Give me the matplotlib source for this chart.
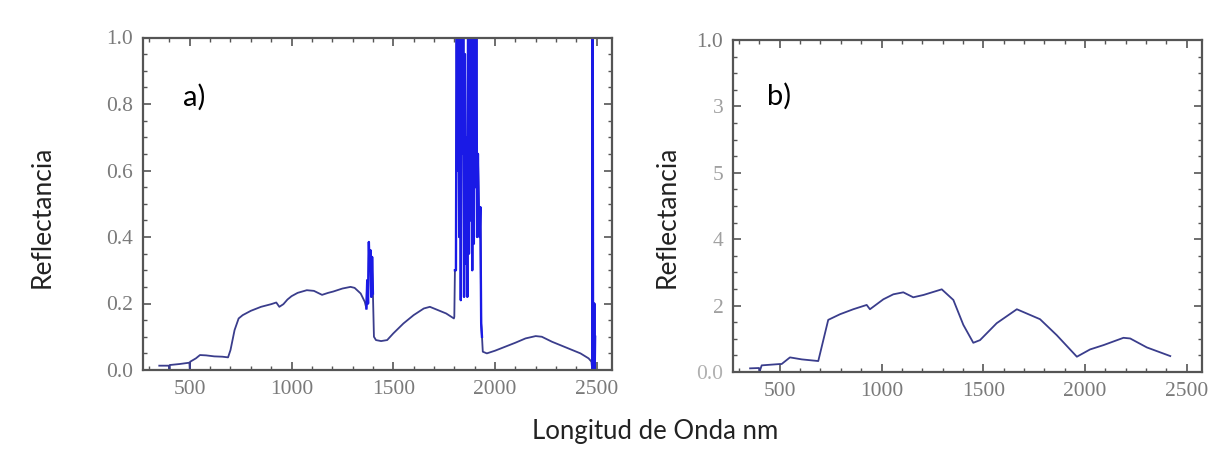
import matplotlib
matplotlib.use("Agg")
import matplotlib.pyplot as plt
import numpy as np
from matplotlib.ticker import MultipleLocator

# ---- data ----
wl_a = [350, 398, 400, 402, 450, 498, 500, 502, 530, 550, 580, 620, 660, 688, 700, 720, 740,
        760, 800, 850, 900, 925, 940, 960, 980, 1000, 1030, 1075, 1110, 1150, 1180, 1205,
        1250, 1290, 1310, 1340, 1360, 1368, 1372, 1376, 1380, 1384, 1388, 1392, 1396, 1400,
        1405, 1415, 1440, 1470, 1500, 1550, 1600, 1650, 1680, 1720, 1760, 1798, 1800, 1803,
        1808, 1812, 1816, 1820, 1824, 1828, 1832, 1836, 1840, 1844, 1848, 1852, 1856, 1860,
        1864, 1868, 1872, 1876, 1880, 1884, 1888, 1892, 1896, 1900, 1904, 1908, 1912, 1916,
        1920, 1924, 1928, 1932, 1936, 1940, 1960, 2000, 2050, 2100, 2150, 2200, 2230, 2280,
        2320, 2380, 2420, 2460, 2474, 2478, 2480, 2482, 2484, 2486, 2488, 2490, 2492]
refl_a = [0.013, 0.013, 0.0, 0.015, 0.018, 0.022, 0.0, 0.025, 0.035, 0.045, 0.044, 0.041, 0.040,
          0.038, 0.06, 0.12, 0.155, 0.165, 0.178, 0.19, 0.198, 0.203, 0.19, 0.198, 0.212, 0.222,
          0.232, 0.24, 0.238, 0.226, 0.232, 0.236, 0.245, 0.25, 0.247, 0.23, 0.205, 0.185, 0.27,
          0.20, 0.385, 0.30, 0.36, 0.22, 0.34, 0.23, 0.10, 0.09, 0.087, 0.09, 0.11, 0.14, 0.165,
          0.185, 0.19, 0.18, 0.17, 0.155, 0.16, 0.30, 0.30, 1.2, 0.60, 1.2, 0.40, 1.2, 0.21,
          1.2, 0.65, 1.2, 0.22, 0.95, 0.32, 0.70, 0.22, 1.2, 0.35, 1.2, 0.45, 1.2, 0.30, 1.2,
          0.38, 1.2, 0.55, 1.2, 0.40, 0.65, 0.49, 0.40, 0.49, 0.14, 0.10, 0.055, 0.05, 0.058,
          0.07, 0.082, 0.095, 0.102, 0.10, 0.085, 0.075, 0.06, 0.05, 0.035, 0.025, 0.0, 1.2,
          0.02, 0.10, 0.0, 0.20, 0.0, 0.10]

wl_b = [354, 398, 400, 411, 500, 509, 550, 608, 689, 738, 796, 861, 927, 943, 1009, 1058, 1107,
        1156, 1206, 1296, 1353, 1402, 1451, 1484, 1566, 1665, 1779, 1861, 1960, 2025, 2091,
        2189, 2222, 2304, 2419]
refl_b = [0.011, 0.012, 0.0, 0.02, 0.024, 0.024, 0.044, 0.038, 0.033, 0.157, 0.174, 0.189, 0.202,
          0.189, 0.219, 0.234, 0.24, 0.225, 0.232, 0.249, 0.217, 0.142, 0.088, 0.096, 0.147,
          0.189, 0.159, 0.111, 0.046, 0.068, 0.081, 0.103, 0.101, 0.074, 0.048]

# noisy (water-absorption) bands drawn brighter
noisy_bands = [(1366, 1402), (1803, 1936), (2478, 2492)]

xticks = [500, 1000, 1500, 2000, 2500]
yticks = [0.0, 0.2, 0.4, 0.6, 0.8, 1.0]
ylabels_a = ["0.0", "0.2", "0.4", "0.6", "0.8", "1.0"]
ylabels_b = ["0.0", "2", "4", "5", "3", "1.0"]

XLIM = (270, 2575)
LINE = "#3a3d8c"
BRIGHT = "#1a1ae6"
TICKCOL = "#7a7a7a"
SERIF = ["Liberation Serif", "DejaVu Serif"]

fig = plt.figure(figsize=(12.23, 4.54), dpi=100)
ax_a = fig.add_axes([143/1223, 84/454, 469/1223, 332.5/454])
ax_b = fig.add_axes([733/1223, 82/454, 469/1223, 332/454])


def style(ax, ylabels, ycolors):
    ax.set_xlim(*XLIM)
    ax.set_ylim(0, 1.0)
    ax.set_xticks(xticks)
    ax.set_xticklabels([str(t) for t in xticks], family=SERIF, fontsize=15.5, color=TICKCOL)
    ax.set_yticks(yticks)
    ax.set_yticklabels(ylabels, family=SERIF, fontsize=15.5)
    for lab, c in zip(ax.get_yticklabels(), ycolors):
        lab.set_color(c)
    ax.xaxis.set_minor_locator(MultipleLocator(100))
    ax.yaxis.set_minor_locator(MultipleLocator(0.05))
    ax.tick_params(which="both", direction="in", top=True, right=True, color="#555555")
    ax.tick_params(which="major", length=6, width=1.2, pad=7)
    ax.tick_params(which="minor", length=3, width=1.0)
    for s in ax.spines.values():
        s.set_color("#555555")
        s.set_linewidth(1.6)


# panel a
wa = np.array(wl_a, dtype=float)
ra = np.array(refl_a, dtype=float)
ax_a.plot(wa, ra, color=LINE, lw=1.3)
for lo, hi in noisy_bands:
    m = (wa >= lo) & (wa <= hi)
    ax_a.plot(wa[m], ra[m], color=BRIGHT, lw=1.7)
style(ax_a, ylabels_a, [TICKCOL] * 6)
ax_a.text(467, 0.82, "a)", fontsize=21, family=["Lato", "DejaVu Sans"], va="center", ha="left")

# panel b
ax_b.plot(wl_b, refl_b, color=LINE, lw=1.3)
style(ax_b, ylabels_b, ["#b0b0b0", "#a0a0a0", "#a0a0a0", "#a0a0a0", "#a0a0a0", TICKCOL])
ax_b.text(437, 0.83, "b)", fontsize=21, family=["Lato", "DejaVu Sans"], va="center", ha="left")

# labels
lab_font = ["Lato", "DejaVu Sans"]
fig.text(42/1223, 1 - 217/454, "Reflectancia", rotation=90, fontsize=19, family=lab_font,
         ha="center", va="center", color="#222222")
fig.text(667/1223, 1 - 217/454, "Reflectancia", rotation=90, fontsize=19, family=lab_font,
         ha="center", va="center", color="#222222")
fig.text(655/1223, 1 - 432/454, "Longitud de Onda nm", fontsize=18.5, family=lab_font,
         ha="center", va="center", color="#222222")

fig.savefig("out.png", dpi=100, facecolor="white")
